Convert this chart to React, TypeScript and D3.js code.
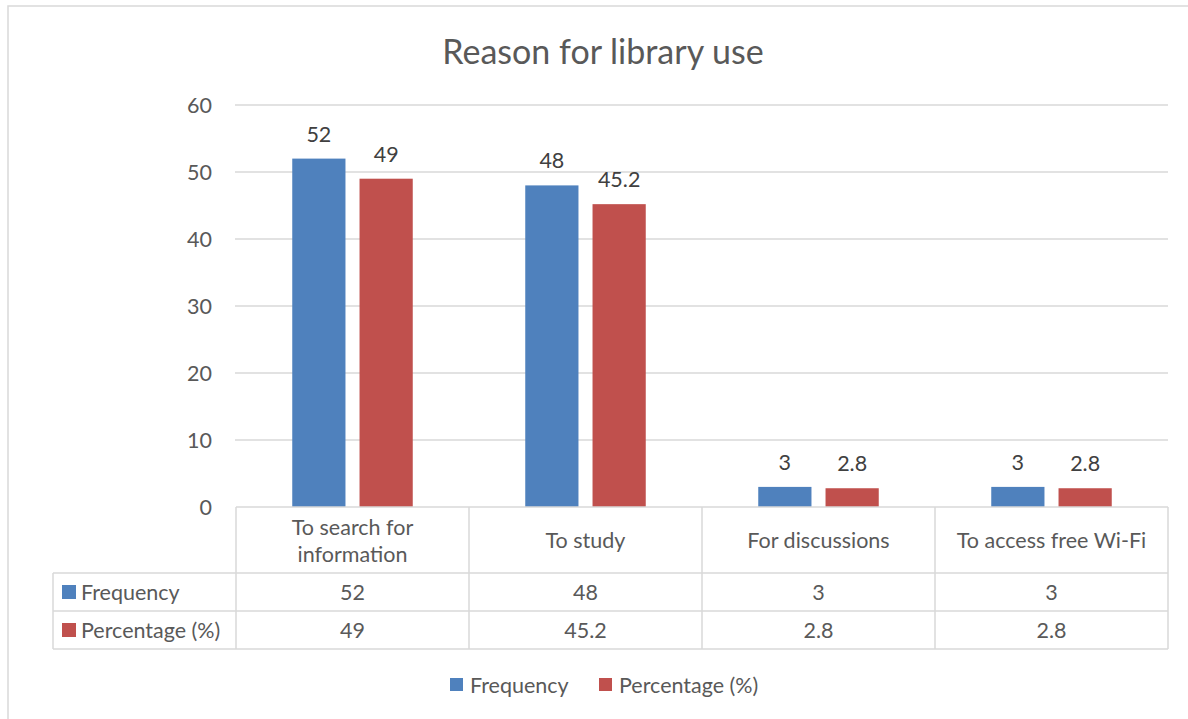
import React from "react";
import * as d3 from "d3";

const categories = ["To search for information", "To study", "For discussions", "To access free Wi-Fi"];
const categoryLines = [["To search for", "information"], ["To study"], ["For discussions"], ["To access free Wi-Fi"]];
const seriesNames = ["Frequency", "Percentage (%)"];
const frequency = [52, 48, 3, 3];
const percentage = [49, 45.2, 2.8, 2.8];
const yTicks = [0, 10, 20, 30, 40, 50, 60];
const colors = ["#4F81BD", "#C0504D"];

const W = 1188, H = 719;
const FONT = "Lato, 'Open Sans', sans-serif";
const TXT = "#595959";
const GRID = "#D9D9D9";
const FS = 21.5;

export default function App() {
  const left = 236, right = 1168, top = 105, bottom = 507;
  const x0 = d3.scaleBand<string>().domain(categories).range([left, right]).padding(0);
  const x1 = d3.scaleBand<string>().domain(seriesNames).range([0, x0.bandwidth()]).paddingInner(0.209).paddingOuter(0.836);
  const y = d3.scaleLinear().domain([0, 60]).range([bottom, top]);
  const values = [frequency, percentage];
  const rowY = [507, 573, 611, 649];
  const tableLeft = 53;
  const fmt = (v: number) => String(v);

  return (
    <svg width={W} height={H} style={{ position: "absolute", left: 0, top: 0, background: "#fff" }} fontFamily={FONT}>
      <rect x={8} y={6} width={1200} height={740} fill="#fff" stroke={GRID} strokeWidth={1.5} />
      <text x={603} y={50} textAnchor="middle" dominantBaseline="central" fontSize={34} fill={TXT}>Reason for library use</text>

      {yTicks.map(t => (
        <g key={t}>
          {t > 0 && <line x1={left - 1} x2={right} y1={y(t)} y2={y(t)} stroke={GRID} strokeWidth={1.5} />}
          <text x={212} y={y(t)} textAnchor="end" dominantBaseline="central" fontSize={FS} fill={TXT}>{t}</text>
        </g>
      ))}

      {categories.map((c, i) => (
        <g key={c}>
          {seriesNames.map((s, j) => {
            const v = values[j][i];
            const bx = (x0(c) as number) + (x1(s) as number);
            const bw = x1.bandwidth();
            return (
              <g key={s}>
                <rect x={bx} y={y(v)} width={bw} height={bottom - y(v)} fill={colors[j]} />
                <text x={bx + bw / 2} y={y(v) - 25} textAnchor="middle" dominantBaseline="central" fontSize={FS} fill="#404040">{fmt(v)}</text>
              </g>
            );
          })}
        </g>
      ))}

      {/* data table */}
      <g stroke={GRID} strokeWidth={1.5}>
        <line x1={left} x2={right} y1={rowY[0]} y2={rowY[0]} />
        {[1, 2, 3].map(r => <line key={r} x1={tableLeft} x2={right} y1={rowY[r]} y2={rowY[r]} />)}
        <line x1={tableLeft} x2={tableLeft} y1={rowY[1]} y2={rowY[3]} />
        {categories.map(c => <line key={c} x1={x0(c)} x2={x0(c)} y1={rowY[0]} y2={rowY[3]} />)}
        <line x1={right} x2={right} y1={rowY[0]} y2={rowY[3]} />
      </g>

      {categories.map((c, i) => {
        const cx = (x0(c) as number) + x0.bandwidth() / 2;
        const lines = categoryLines[i];
        const cy = (rowY[0] + rowY[1]) / 2;
        return (
          <g key={c}>
            {lines.map((l, k) => (
              <text key={k} x={cx} y={cy + (k - (lines.length - 1) / 2) * 27} textAnchor="middle" dominantBaseline="central" fontSize={FS} fill={TXT}>{l}</text>
            ))}
            {seriesNames.map((s, j) => (
              <text key={s} x={cx} y={(rowY[j + 1] + rowY[j + 2]) / 2} textAnchor="middle" dominantBaseline="central" fontSize={FS} fill={TXT}>{fmt(values[j][i])}</text>
            ))}
          </g>
        );
      })}

      {seriesNames.map((s, j) => {
        const cy = (rowY[j + 1] + rowY[j + 2]) / 2;
        return (
          <g key={s}>
            <rect x={62} y={cy - 7} width={14} height={14} fill={colors[j]} />
            <text x={81} y={cy} dominantBaseline="central" fontSize={FS} fill={TXT}>{s}</text>
          </g>
        );
      })}

      {/* legend */}
      {seriesNames.map((s, j) => {
        const lx = [450, 599][j];
        return (
          <g key={s}>
            <rect x={lx} y={678} width={13} height={13} fill={colors[j]} />
            <text x={lx + 20} y={685} dominantBaseline="central" fontSize={FS} fill={TXT}>{s}</text>
          </g>
        );
      })}
    </svg>
  );
}
